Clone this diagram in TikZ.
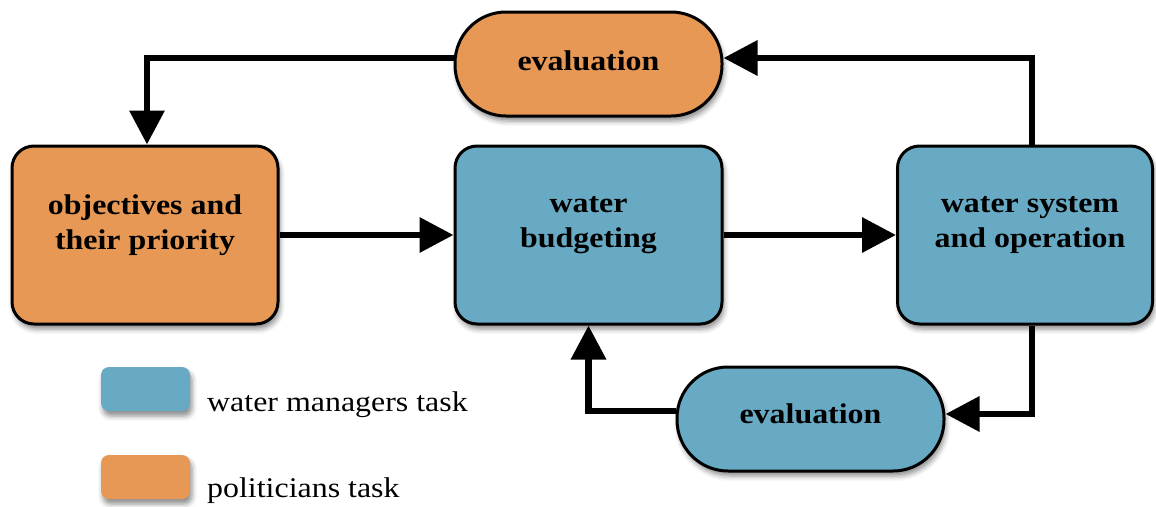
\documentclass[tikz,border=0pt]{standalone}
\usepackage{fontspec}
\setmainfont{Liberation Serif}[FakeStretch=1.12]
\usetikzlibrary{arrows.meta,shadows.blur}
\definecolor{polorange}{RGB}{230,152,84}
\definecolor{wmblue}{RGB}{104,170,196}
\tikzset{
  soft/.style={blur shadow={shadow xshift=2pt,shadow yshift=-5pt,shadow blur radius=5pt,shadow opacity=45}},
  taskbox/.style={draw=black,line width=3pt,rounded corners=22pt,soft,inner sep=0pt},
  evalbox/.style={draw=black,line width=3pt,rounded corners=51pt,soft,inner sep=0pt,
    minimum width=267pt,minimum height=104pt},
  boxtext/.style={font=\bfseries\fontsize{28.5}{35}\selectfont,align=center,inner sep=0pt},
  legtext/.style={font=\fontsize{28.5}{32}\selectfont,anchor=west,inner sep=0pt},
  legbox/.style={rounded corners=8pt,soft,inner sep=0pt,minimum width=89pt,minimum height=44pt},
  flow/.style={line width=6.5pt,-{Triangle[length=34pt,width=34pt]}},
}
\begin{document}
\begin{tikzpicture}[x=1pt,y=-1pt]
\useasboundingbox (0,0) rectangle (1156,506);

% task boxes
\node[taskbox,fill=polorange,minimum width=266pt,minimum height=178pt] (obj) at (145,235) {};
\node[taskbox,fill=wmblue,minimum width=267pt,minimum height=178pt] (bud) at (588.5,235) {};
\node[taskbox,fill=wmblue,minimum width=255pt,minimum height=178pt] (sys) at (1025,235) {};
\node[boxtext] (objt) at (145,225) {objectives and\\their priority};
\node[boxtext] (budt) at (588.5,225) {water\\budgeting};
\node[boxtext] (syst) at (1030,225) {water system\\and operation};

% evaluation loops
\node[evalbox,fill=polorange] (tev) at (588.5,64) {};
\node[evalbox,fill=wmblue] (bev) at (810.5,419) {};
\node[boxtext] (tevt) at (588.5,61) {evaluation};
\node[boxtext] (bevt) at (810.5,414) {evaluation};

% connectors
\draw[flow] ([yshift=6pt]tev.west) -| ([xshift=2pt]obj.north);
\draw[flow] (obj.east) -- (bud.west);
\draw[flow] (bud.east) -- (sys.west);
\draw[flow] ([xshift=7pt]sys.north) |- ([yshift=6pt]tev.east);
\draw[flow] ([xshift=7pt]sys.south) |- ([yshift=5pt]bev.east);
\draw[flow] ([yshift=8pt]bev.west) -| (bud.south);

% legend
\node[legbox,fill=wmblue] (lgb) at (145.5,389) {};
\node[legbox,fill=polorange] (lgo) at (145.5,477) {};
\node[legtext] (lgbt) at (207,405) {water managers task};
\node[legtext] (lgot) at (207,491) {politicians task};
\end{tikzpicture}
\end{document}
